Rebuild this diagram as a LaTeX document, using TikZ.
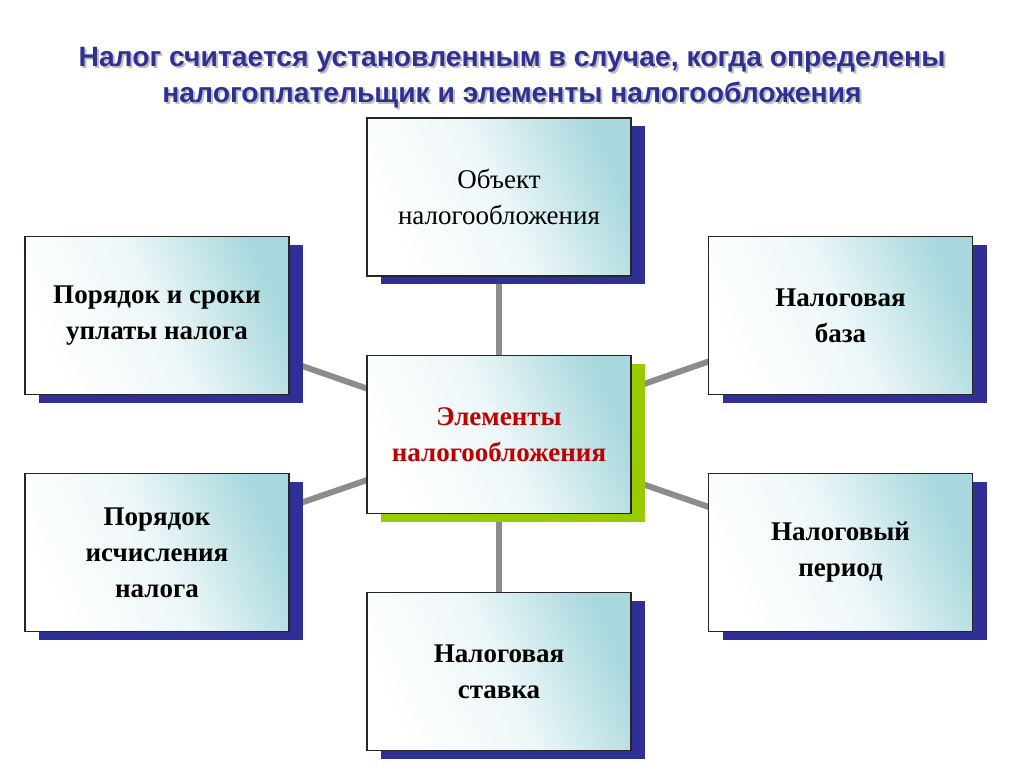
\documentclass[tikz,border=0pt]{standalone}
\usepackage{fontspec}
\setmainfont{Liberation Serif}
\newfontfamily\titlefont[FakeStretch=1.01]{Liberation Sans}
\usepackage{tikz}
\usetikzlibrary{shadows,backgrounds}
\definecolor{titleblue}{HTML}{2E3192}
\definecolor{shadowblue}{HTML}{2F2F96}
\definecolor{shadowgreen}{HTML}{99CC00}
\definecolor{boxteal}{HTML}{A8D8DD}
\definecolor{linkgray}{HTML}{8C8C8C}
\definecolor{centerred}{HTML}{C00000}

\tikzset{
    elembox/.style={draw=black!85, line width=1.1pt, minimum width=264pt, minimum height=158pt,
        align=center, font=\fontsize{27}{36}\selectfont\bfseries,
        top color=boxteal, bottom color=white, middle color=white!80!boxteal, shading angle=-65,
        general shadow={fill=shadowblue, shadow xshift=14pt, shadow yshift=-8pt}},
    centerbox/.style={elembox, general shadow={fill=shadowgreen, shadow xshift=14pt, shadow yshift=-8pt}},
    link/.style={linkgray, line width=6pt},
    titletext/.style={align=center, font=\titlefont\bfseries\fontsize{28}{36}\selectfont}
}

\begin{document}
\begin{tikzpicture}[x=1pt,y=-1pt]
\useasboundingbox (0,0) rectangle (1024,767);

% Title
\node[titletext, text=black!25] at (514,80)
    {Налог считается установленным в случае, когда определены\\налогоплательщик и элементы налогообложения};
\node (title) [titletext, text=titleblue] at (512,78)
    {Налог считается установленным в случае, когда определены\\налогоплательщик и элементы налогообложения};

% Center
\node (elem) [centerbox, text=centerred] at (499,434.5) {Элементы\\налогообложения};

% Boxes around
\node (obj) [elembox, font=\fontsize{27}{36}\selectfont] at (499,197) {Объект\\налогообложения};
\node (rate) [elembox] at (499,671.5) {Налоговая\\ставка};
\node (pay) [elembox] at (157,315.5) {Порядок и сроки\\уплаты налога};
\node (calc) [elembox] at (157,552.5) {Порядок\\исчисления\\налога};
\node (base) [elembox] at (840.5,315.5) {Налоговая\\база};
\node (period) [elembox] at (840.5,552.5) {Налоговый\\период};

% Links
\begin{scope}[on background layer]
\foreach \n in {obj,rate,pay,calc,base,period}
{
    \draw[link] (elem.center) -- (\n.center);
}
\end{scope}
\end{tikzpicture}
\end{document}
